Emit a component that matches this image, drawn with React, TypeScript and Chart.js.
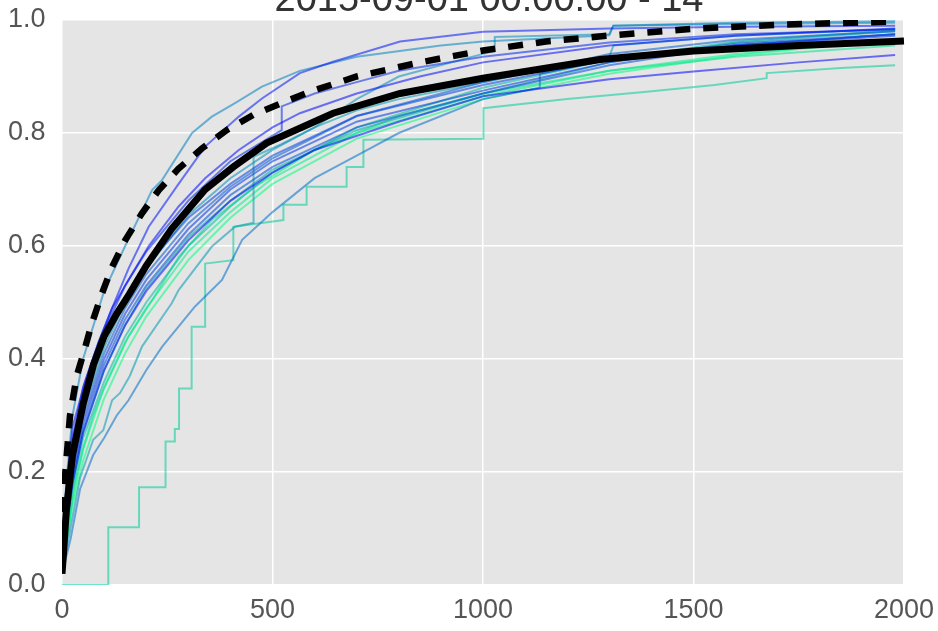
import { useEffect, useRef } from "react";
import { Chart, registerables } from "chart.js";

Chart.register(...registerables);

type Pt = [number, number];

const TITLE = "2015-09-01 00:00:00 - 14";
const X_TICKS = [0, 500, 1000, 1500, 2000];
const Y_TICKS = [0, 0.2, 0.4, 0.6, 0.8, 1.0];

// thick black solid curve
const meanCurve: Pt[] = [
  [0, 0.02], [3, 0.05], [10, 0.13], [25, 0.23], [50, 0.32], [75, 0.39], [100, 0.44],
  [130, 0.48], [160, 0.515], [200, 0.565], [260, 0.63], [340, 0.7], [407, 0.74],
  [486, 0.782], [644, 0.835], [803, 0.87], [1000, 0.897], [1278, 0.93], [1500, 0.945],
  [1750, 0.955], [2000, 0.963],
];

// thick black dashed curve
const refCurve: Pt[] = [
  [0, 0.03], [3, 0.12], [8, 0.2], [19, 0.3], [35, 0.37], [51, 0.41], [71, 0.463],
  [95, 0.516], [119, 0.563], [150, 0.61], [190, 0.658], [230, 0.699], [277, 0.737],
  [333, 0.773], [391, 0.805], [454, 0.832], [522, 0.853], [589, 0.873], [700, 0.9],
  [850, 0.925], [1000, 0.946], [1150, 0.962], [1294, 0.972], [1507, 0.985],
  [1721, 0.992], [1970, 0.997],
];

// coarse step curve (green)
const stepGreen: Pt[] = [
  [0, 0], [110, 0], [110, 0.102], [183, 0.102], [183, 0.173], [246, 0.173], [246, 0.254],
  [268, 0.254], [268, 0.276], [278, 0.276], [278, 0.348], [308, 0.348], [308, 0.457],
  [340, 0.457], [340, 0.569], [407, 0.575], [407, 0.634], [526, 0.646], [526, 0.673],
  [581, 0.673], [581, 0.705], [676, 0.705], [676, 0.74], [716, 0.74], [716, 0.788],
  [1001, 0.79], [1001, 0.844], [1200, 0.86], [1389, 0.873], [1550, 0.885], [1674, 0.897],
  [1674, 0.906], [1850, 0.915], [1979, 0.92],
];

const tealJump: Pt[] = [
  [0, 0.02], [20, 0.1], [43, 0.19], [74, 0.257], [98, 0.274], [119, 0.327], [138, 0.34],
  [161, 0.37], [190, 0.422], [261, 0.499], [277, 0.522], [356, 0.599], [411, 0.634],
  [455, 0.641], [455, 0.758], [520, 0.78], [600, 0.81], [700, 0.84], [800, 0.86],
  [1000, 0.89], [1300, 0.935], [1310, 0.955], [1600, 0.972], [1979, 0.984],
];

const blueWavy: Pt[] = [
  [0, 0.02], [20, 0.08], [43, 0.17], [74, 0.23], [100, 0.26], [130, 0.3], [158, 0.327],
  [200, 0.38], [238, 0.422], [316, 0.493], [380, 0.54], [428, 0.611], [500, 0.66],
  [600, 0.72], [700, 0.76], [800, 0.8], [1000, 0.86], [1135, 0.88], [1135, 0.905],
  [1300, 0.93], [1600, 0.955], [1979, 0.975],
];

const blueLow: Pt[] = [
  [0, 0.02], [10, 0.1], [25, 0.18], [50, 0.27], [100, 0.38], [150, 0.46], [200, 0.52],
  [300, 0.61], [400, 0.68], [500, 0.73], [600, 0.77], [800, 0.82], [1000, 0.865],
  [1300, 0.895], [1500, 0.909], [1750, 0.925], [1979, 0.938],
];

const blueTop: Pt[] = [
  [0, 0.03], [10, 0.17], [25, 0.28], [55, 0.36], [87, 0.43], [119, 0.49], [158, 0.56],
  [206, 0.634], [277, 0.71], [340, 0.776], [420, 0.829], [475, 0.861], [565, 0.906],
  [644, 0.926], [803, 0.962], [1000, 0.979], [1300, 0.985], [1600, 0.988], [1979, 0.99],
];

const blueMid: Pt[] = [
  [0, 0.03], [10, 0.15], [25, 0.26], [50, 0.35], [87, 0.43], [119, 0.49], [158, 0.54],
  [206, 0.6], [277, 0.67], [340, 0.72], [420, 0.77], [500, 0.81], [565, 0.835],
  [700, 0.87], [850, 0.9], [1000, 0.925], [1300, 0.955], [1600, 0.972], [1979, 0.985],
];

const blueJump: Pt[] = [
  [0, 0.03], [10, 0.15], [25, 0.25], [50, 0.34], [100, 0.45], [150, 0.53], [200, 0.59],
  [300, 0.68], [400, 0.75], [522, 0.805], [522, 0.847], [600, 0.87], [700, 0.89],
  [800, 0.91], [1000, 0.935], [1300, 0.96], [1600, 0.975], [1979, 0.983],
];

const tealTop: Pt[] = [
  [0, 0.03], [10, 0.18], [25, 0.3], [50, 0.4], [100, 0.52], [150, 0.6], [214, 0.699],
  [238, 0.717], [309, 0.8], [356, 0.829], [411, 0.853], [475, 0.882], [565, 0.91],
  [700, 0.935], [900, 0.955], [1000, 0.962], [1300, 0.973], [1310, 0.99], [1600, 0.995],
  [1979, 0.998],
];

const tealStep: Pt[] = [
  [0, 0.02], [10, 0.12], [25, 0.21], [50, 0.31], [100, 0.42], [150, 0.5], [200, 0.56],
  [300, 0.655], [400, 0.72], [500, 0.77], [600, 0.81], [700, 0.86], [800, 0.9],
  [1000, 0.94], [1028, 0.945], [1028, 0.97], [1300, 0.975], [1309, 0.99], [1600, 0.993],
  [1979, 0.995],
];

const greenSmooth: Pt[] = [
  [0, 0.02], [10, 0.07], [27, 0.168], [51, 0.245], [74, 0.3], [95, 0.34], [158, 0.44],
  [214, 0.504], [277, 0.581], [356, 0.646], [458, 0.705], [600, 0.77], [800, 0.83],
  [1000, 0.87], [1300, 0.91], [1600, 0.935], [1979, 0.955],
];

const bundleA: Pt[] = [
  [0, 0.02], [10, 0.12], [25, 0.2], [50, 0.29], [100, 0.4], [150, 0.48], [200, 0.54],
  [300, 0.63], [400, 0.7], [500, 0.75], [700, 0.82], [1000, 0.875], [1300, 0.925],
  [1600, 0.955], [1979, 0.972],
];
const bundleB: Pt[] = [
  [0, 0.02], [10, 0.11], [25, 0.19], [50, 0.28], [100, 0.39], [150, 0.47], [200, 0.53],
  [300, 0.62], [400, 0.69], [500, 0.74], [700, 0.81], [1000, 0.87], [1300, 0.92],
  [1600, 0.955], [1979, 0.975],
];
const bundleC: Pt[] = [
  [0, 0.02], [10, 0.1], [25, 0.18], [50, 0.27], [100, 0.38], [150, 0.46], [200, 0.525],
  [300, 0.615], [400, 0.68], [500, 0.735], [700, 0.805], [1000, 0.87], [1300, 0.925],
  [1600, 0.96], [1979, 0.98],
];
const bundleD: Pt[] = [
  [0, 0.02], [10, 0.09], [25, 0.17], [50, 0.26], [100, 0.36], [150, 0.44], [200, 0.5],
  [300, 0.6], [400, 0.67], [500, 0.73], [700, 0.81], [1000, 0.88], [1300, 0.93],
  [1600, 0.962], [1979, 0.982],
];
const bundleE: Pt[] = [
  [0, 0.02], [10, 0.08], [25, 0.15], [50, 0.24], [100, 0.35], [150, 0.43], [200, 0.49],
  [300, 0.59], [400, 0.66], [500, 0.72], [700, 0.8], [1000, 0.865], [1300, 0.91],
  [1600, 0.94], [1979, 0.965],
];
const bundleF: Pt[] = [
  [0, 0.02], [10, 0.07], [25, 0.14], [50, 0.22], [100, 0.33], [150, 0.41], [200, 0.475],
  [300, 0.575], [400, 0.65], [500, 0.71], [700, 0.79], [1000, 0.86], [1300, 0.905],
  [1600, 0.937], [1979, 0.966],
];
const bundleG: Pt[] = [
  [0, 0.03], [10, 0.14], [25, 0.24], [50, 0.33], [100, 0.44], [150, 0.51], [200, 0.565],
  [300, 0.65], [400, 0.71], [500, 0.76], [700, 0.83], [1000, 0.885], [1300, 0.93],
  [1600, 0.958], [1979, 0.975],
];
const bundleH: Pt[] = [
  [0, 0.02], [10, 0.12], [25, 0.21], [50, 0.3], [100, 0.41], [150, 0.49], [200, 0.55],
  [300, 0.64], [400, 0.705], [500, 0.755], [700, 0.83], [1000, 0.89], [1300, 0.94],
  [1600, 0.965], [1979, 0.98],
];

const colorSeries: Pt[][] = [
  blueLow, blueTop, blueMid, blueJump, bundleA, bundleG, bundleB, bundleH, blueWavy,
  tealTop, tealStep, tealJump, bundleC, bundleD, stepGreen, greenSmooth, bundleE, bundleF,
];
// position of each series along a blue -> green ("winter") colour map
const colorShade: number[] = [
  0.02, 0.08, 0.04, 0.15, 0.2, 0.25, 0.3, 0.35, 0.42,
  0.5, 0.55, 0.6, 0.65, 0.72, 0.8, 0.9, 0.95, 1.0,
];

function winter(t: number, a: number) {
  return `rgba(0, ${Math.round(255 * t)}, ${Math.round(255 * (1 - 0.5 * t))}, ${a})`;
}

const FONT_FAMILY = "'Liberation Sans', Arial, sans-serif";

export default function App() {
  const ref = useRef<HTMLCanvasElement | null>(null);

  useEffect(() => {
    document.body.style.margin = "0";
    const canvas = ref.current;
    if (!canvas) return;

    const toXY = (pts: Pt[]) => pts.map(([x, y]) => ({ x, y }));

    const datasets: any[] = [
      {
        data: toXY(refCurve),
        borderColor: "#000",
        borderWidth: 6.5,
        borderDash: [15, 13],
        pointRadius: 0,
        order: 0,
      },
      {
        data: toXY(meanCurve),
        borderColor: "#000",
        borderWidth: 7,
        pointRadius: 0,
        order: 1,
        clip: { left: 0, top: 0, right: 8, bottom: 0 },
      },
      ...colorSeries.map((s, i) => ({
        data: toXY(s),
        borderColor: winter(colorShade[i], 0.55),
        borderWidth: 2,
        pointRadius: 0,
        order: 2,
      })),
    ];

    const bgPlugin = {
      id: "bg",
      beforeDraw(chart: any) {
        const { ctx, chartArea: a } = chart;
        ctx.save();
        ctx.fillStyle = "#fff";
        ctx.fillRect(0, 0, chart.width, chart.height);
        ctx.fillStyle = "#E5E5E5";
        ctx.fillRect(a.left, a.top, a.right - a.left, a.bottom - a.top);
        ctx.restore();
      },
      afterDraw(chart: any) {
        const { ctx, chartArea: a } = chart;
        ctx.save();
        ctx.fillStyle = "#333";
        ctx.font = `38px ${FONT_FAMILY}`;
        ctx.textAlign = "center";
        ctx.textBaseline = "alphabetic";
        ctx.fillText(TITLE, (a.left + a.right) / 2 + 6, 11);
        ctx.restore();
      },
    };

    const chart = new Chart(canvas, {
      type: "line",
      data: { datasets },
      options: {
        animation: false,
        responsive: false,
        devicePixelRatio: 1,
        layout: { padding: { left: 8, right: 0, top: 20, bottom: 0 } },
        elements: { line: { tension: 0 } },
        plugins: { legend: { display: false }, tooltip: { enabled: false }, title: { display: false } },
        scales: {
          x: {
            type: "linear",
            min: 0,
            max: 2000,
            afterBuildTicks: (s: any) => {
              s.ticks = X_TICKS.map((v) => ({ value: v }));
            },
            afterFit: (s: any) => {
              s.height = 46;
            },
            ticks: {
              color: "#555",
              font: { family: FONT_FAMILY, size: 27, lineHeight: 1.6 },
              padding: 4,
              maxRotation: 0,
              autoSkip: false,
              callback: (v: any) => String(v),
            },
            grid: { color: "#fff", lineWidth: 1.5, drawTicks: false },
            border: { display: false },
          },
          y: {
            type: "linear",
            min: 0,
            max: 1,
            afterBuildTicks: (s: any) => {
              s.ticks = Y_TICKS.map((v) => ({ value: v }));
            },
            afterFit: (s: any) => {
              s.width = 54;
            },
            ticks: {
              color: "#555",
              font: { family: FONT_FAMILY, size: 27 },
              padding: 0,
              crossAlign: "far",
              callback: (v: any) => Number(v).toFixed(1),
              autoSkip: false,
            },
            grid: { color: "#fff", lineWidth: 1.5, drawTicks: false },
            border: { display: false },
          },
        },
      },
      plugins: [bgPlugin],
    });

    return () => chart.destroy();
  }, []);

  return <canvas ref={ref} width={938} height={631} style={{ display: "block" }} />;
}
